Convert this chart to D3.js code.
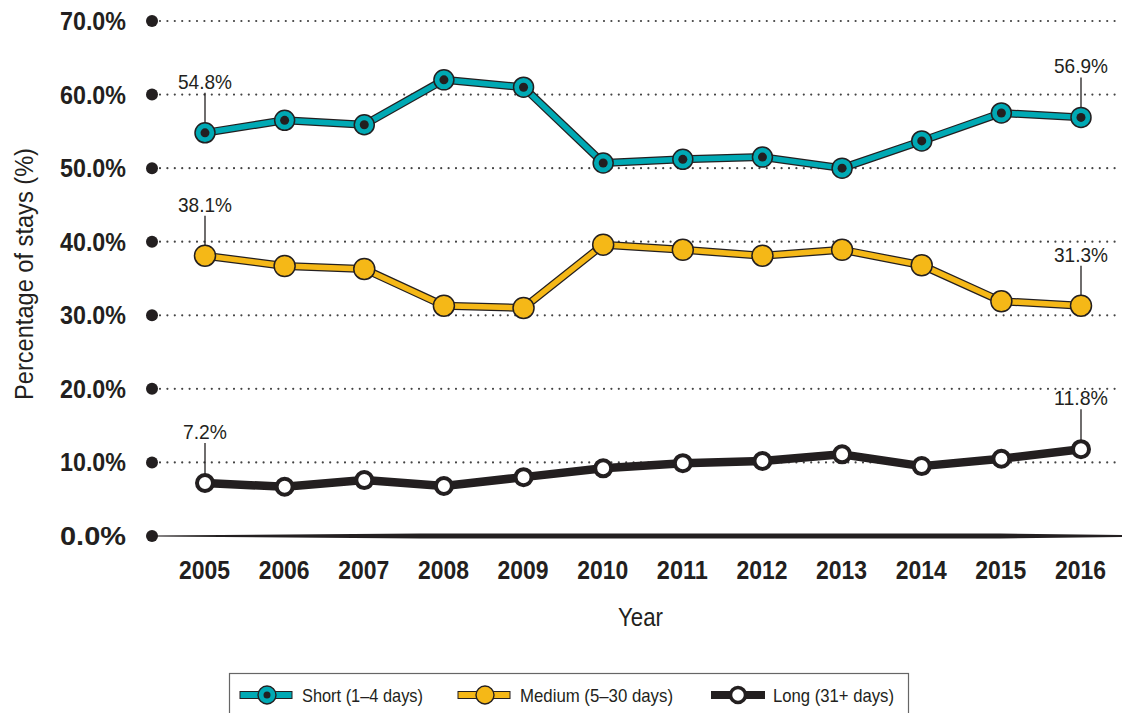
<!DOCTYPE html>
<html><head><meta charset="utf-8">
<script src="https://cdn.jsdelivr.net/npm/d3@7"></script>
<style>body{margin:0;background:#fff}svg{display:block}text{font-family:"Liberation Sans","Arial",sans-serif}</style>
</head><body><svg id="c" width="1122" height="713"></svg>
<script>
const years = [2005,2006,2007,2008,2009,2010,2011,2012,2013,2014,2015,2016];
const shortStays = [54.8,56.5,55.9,62.0,61.0,50.7,51.2,51.5,50.0,53.7,57.5,56.9];
const mediumStays = [38.1,36.7,36.3,31.3,31.0,39.6,38.9,38.1,38.9,36.8,31.9,31.3];
const longStays = [7.2,6.7,7.6,6.8,8.0,9.2,9.9,10.2,11.1,9.5,10.5,11.8];
const yTicks = [0,10,20,30,40,50,60,70];
const seriesNames = ["Short (1–4 days)","Medium (5–30 days)","Long (31+ days)"];

const svg = d3.select("#c");
const x = d3.scalePoint().domain(years).range([205,1081]);
const y = d3.scaleLinear().domain([0,70]).range([536,21]);
const ink = "#231f20";

function fit(sel, w){ return sel.attr("textLength",w).attr("lengthAdjust","spacingAndGlyphs"); }

// gridlines
const g = svg.append("g");
yTicks.forEach(t=>{
  if(t>0) g.append("line").attr("x1",160).attr("x2",1122).attr("y1",y(t)).attr("y2",y(t))
    .attr("stroke","#444").attr("stroke-width",2.2).attr("stroke-linecap","round").attr("stroke-dasharray","0 7.4");
  g.append("circle").attr("cx",152).attr("cy",y(t)).attr("r",6).attr("fill",ink);
  fit(g.append("text").attr("x",60).attr("y",y(t)+9)
    .attr("font-size",25).attr("font-weight","bold").attr("fill",ink).text(t.toFixed(1)+"%"),66);
});
// baseline lens
const y0 = y(0);
svg.append("path").attr("d",`M152,${y0-0.5} L420,${y0-2.5} L1000,${y0-2.5} L1122,${y0-1} L1122,${y0+1} L1000,${y0+2.5} L420,${y0+2.5} L152,${y0+0.5}Z`).attr("fill",ink);

// x labels
years.forEach(yr=>{
  fit(svg.append("text").attr("x",x(yr)-26).attr("y",579)
    .attr("font-size",26).attr("font-weight","bold").attr("fill",ink).text(yr),51);
});
fit(svg.append("text").attr("x",618).attr("y",626).attr("font-size",26).attr("fill",ink).text("Year"),45);
fit(svg.append("text").attr("transform","translate(33,400) rotate(-90)").attr("font-size",25).attr("fill",ink).text("Percentage of stays (%)"),252);

const line = d3.line().x((d,i)=>x(years[i])).y(d=>y(d));

function drawSeries(vals, kind){
  const s = svg.append("g");
  if(kind==="short"){
    s.append("path").attr("d",line(vals)).attr("fill","none").attr("stroke",ink).attr("stroke-width",8).attr("stroke-linejoin","round");
    s.append("path").attr("d",line(vals)).attr("fill","none").attr("stroke","#00a9b4").attr("stroke-width",5.5).attr("stroke-linejoin","round");
    vals.forEach((v,i)=>{
      s.append("circle").attr("cx",x(years[i])).attr("cy",y(v)).attr("r",10).attr("fill","#00a9b4").attr("stroke",ink).attr("stroke-width",1.5);
      s.append("circle").attr("cx",x(years[i])).attr("cy",y(v)).attr("r",4.5).attr("fill",ink);
    });
  } else if(kind==="medium"){
    s.append("path").attr("d",line(vals)).attr("fill","none").attr("stroke",ink).attr("stroke-width",8).attr("stroke-linejoin","round");
    s.append("path").attr("d",line(vals)).attr("fill","none").attr("stroke","#f5b817").attr("stroke-width",5.5).attr("stroke-linejoin","round");
    vals.forEach((v,i)=>{
      s.append("circle").attr("cx",x(years[i])).attr("cy",y(v)).attr("r",10.5).attr("fill","#f5b817").attr("stroke",ink).attr("stroke-width",1.5);
    });
  } else {
    s.append("path").attr("d",line(vals)).attr("fill","none").attr("stroke",ink).attr("stroke-width",8.5).attr("stroke-linejoin","round");
    vals.forEach((v,i)=>{
      s.append("circle").attr("cx",x(years[i])).attr("cy",y(v)).attr("r",8).attr("fill","#fff").attr("stroke",ink).attr("stroke-width",4);
    });
  }
  // end labels
  [0, vals.length-1].forEach(i=>{
    const cx = x(years[i]), cy = y(vals[i]);
    s.insert("line",":first-child").attr("x1",cx).attr("x2",cx).attr("y1",cy-40).attr("y2",cy).attr("stroke",ink).attr("stroke-width",1.3);
    const w = vals[i] < 10 ? 44 : 54;
    fit(s.append("text").attr("x",cx-w/2).attr("y",cy-44).attr("font-size",21).attr("fill",ink).text(vals[i].toFixed(1)+"%"),w);
  });
}
drawSeries(longStays,"long");
drawSeries(mediumStays,"medium");
drawSeries(shortStays,"short");

// legend
const lg = svg.append("g");
lg.append("rect").attr("x",229.5).attr("y",673.5).attr("width",679).attr("height",50).attr("fill","#fff").attr("stroke","#666").attr("stroke-width",1.2);
const legX = [240,458,711];
const textX = [302,520,773];
const textW = [121,153,121];
const legColors = ["#00a9b4","#f5b817",ink];
seriesNames.forEach((n,i)=>{
  const lx = legX[i], ly = 695;
  if(i<2){
    lg.append("rect").attr("x",lx).attr("y",ly-3.5).attr("width",52).attr("height",7).attr("fill",legColors[i]).attr("stroke",ink).attr("stroke-width",1);
    lg.append("circle").attr("cx",lx+27).attr("cy",ly).attr("r",9).attr("fill",legColors[i]).attr("stroke",ink).attr("stroke-width",1.4);
    if(i===0) lg.append("circle").attr("cx",lx+27).attr("cy",ly).attr("r",3.5).attr("fill",ink);
  } else {
    lg.append("rect").attr("x",lx).attr("y",ly-4).attr("width",54).attr("height",8).attr("fill",ink);
    lg.append("circle").attr("cx",lx+27).attr("cy",ly).attr("r",7.5).attr("fill","#fff").attr("stroke",ink).attr("stroke-width",3.5);
  }
  fit(lg.append("text").attr("x",textX[i]).attr("y",ly+7).attr("font-size",19).attr("fill",ink).text(n),textW[i]);
});
</script></body></html>
